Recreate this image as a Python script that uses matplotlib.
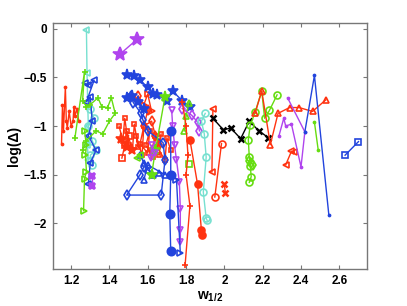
import matplotlib
matplotlib.use('Agg')
import matplotlib.pyplot as plt

plt.rcParams['font.family'] = ['Liberation Sans', 'DejaVu Sans']
plt.rcParams['mathtext.fontset'] = 'custom'
plt.rcParams['mathtext.bf'] = 'Liberation Sans:bold'
plt.rcParams['mathtext.rm'] = 'Liberation Sans'

red = '#ff3311'
blue = '#2244dd'
green = '#66dd11'
cyan = '#77e0d0'
purple = '#b044ee'
black = '#000000'

# each series: (colour, marker, filled, xs, ys)
s_red_thin_x = [1.15, 1.155, 1.16, 1.17, 1.175, 1.18, 1.19, 1.20, 1.21, 1.215, 1.22, 1.23, 1.24]
s_red_thin_y = [-1.18, -0.78, -1.05, -0.6, -0.95, -1.02, -0.85, -1.0, -0.95, -0.8, -0.9, -0.82, -0.95]

s_cyan_tl_x = [1.28, 1.283, 1.287, 1.29, 1.285, 1.29]
s_cyan_tl_y = [-0.01, -0.45, -0.8, -1.0, -1.2, -1.35]

s_blue_tl_x = [1.27, 1.29, 1.32, 1.28, 1.30, 1.31, 1.29, 1.33, 1.30, 1.29]
s_blue_tl_y = [-0.56, -0.58, -0.53, -0.75, -0.7, -0.95, -1.1, -1.25, -1.38, -1.6]

s_green_plus_x = [1.22, 1.27, 1.26, 1.28, 1.30, 1.34, 1.36, 1.39, 1.41, 1.43, 1.40, 1.365, 1.33, 1.28, 1.26]
s_green_plus_y = [-1.12, -0.44, -0.74, -0.8, -0.78, -0.71, -0.8, -0.81, -0.71, -0.87, -0.95, -1.08, -1.05, -1.15, -1.25]

s_green_tr_x = [1.27, 1.28, 1.275, 1.28, 1.27, 1.265]
s_green_tr_y = [-1.05, -1.2, -1.3, -1.47, -1.54, -1.87]

s_cyan_o_x = [1.30, 1.32, 1.29, 1.31, 1.33, 1.30, 1.31]
s_cyan_o_y = [-0.83, -0.92, -1.0, -1.15, -1.25, -1.3, -1.4]

s_purple_star_x = [1.31, 1.31]
s_purple_star_y = [-1.51, -1.62]

s_purple_pent_x = [1.456, 1.543]
s_purple_pent_y = [-0.26, -0.11]

s_blue_pent_x = [1.49, 1.53, 1.56, 1.60, 1.63, 1.65, 1.70, 1.73, 1.78, 1.82]
s_blue_pent_y = [-0.48, -0.49, -0.53, -0.6, -0.67, -0.68, -0.74, -0.64, -0.74, -0.8]

s_blue_pent2_x = [1.49, 1.52, 1.55, 1.58]
s_blue_pent2_y = [-0.71, -0.69, -0.75, -0.82]

s_blue_d_x = [1.51, 1.525, 1.565, 1.575, 1.60, 1.68, 1.69, 1.67, 1.49, 1.56, 1.58]
s_blue_d_y = [-0.69, -0.76, -0.87, -0.94, -1.05, -1.17, -1.35, -1.71, -1.71, -1.5, -1.42]

s_red_d_x = [1.55, 1.60, 1.58, 1.62, 1.64, 1.66]
s_red_d_y = [-0.69, -0.84, -1.0, -0.95, -1.1, -1.2]

s_red_zig_x = [1.45, 1.47, 1.48, 1.50, 1.49, 1.52, 1.53, 1.55, 1.54, 1.57, 1.58, 1.56,
               1.60, 1.61, 1.59, 1.63, 1.64, 1.62, 1.66, 1.67, 1.65, 1.69, 1.70, 1.72]
s_red_zig_y = [-1.0, -1.15, -0.92, -1.2, -1.05, -1.25, -0.98, -1.22, -1.1, -1.3, -1.0, -1.18,
               -1.28, -1.05, -1.2, -1.32, -1.1, -1.25, -1.3, -1.08, -1.22, -1.35, -1.12, -1.25]

s_red_sq_x = [1.465, 1.48, 1.50]
s_red_sq_y = [-1.33, -1.2, -1.1]

s_red_star_x = [1.46, 1.49, 1.52]
s_red_star_y = [-1.13, -1.22, -1.25]

s_red_tr_x = [1.58, 1.60, 1.62]
s_red_tr_y = [-0.78, -0.67, -0.85]

s_green_pent_x = [1.69, 1.64, 1.62]
s_green_pent_y = [-0.7, -1.25, -1.5]

s_green_tu_x = [1.815, 1.80, 1.79]
s_green_tu_y = [-0.76, -0.9, -1.05]

s_green_tl_x = [1.545, 1.56]
s_green_tl_y = [-1.33, -1.3]

s_green_sq_x = [1.815]
s_green_sq_y = [-1.39]

s_purple_d_x = [1.78, 1.83, 1.86, 1.87]
s_purple_d_y = [-0.82, -0.89, -0.96, -1.05]

s_purple_v_x = [1.725, 1.73, 1.74, 1.75, 1.765, 1.77, 1.77, 1.77]
s_purple_v_y = [-0.84, -1.0, -1.2, -1.35, -1.58, -1.85, -2.07, -2.19]

s_purple_v2_x = [1.615, 1.62, 1.64]
s_purple_v2_y = [-1.33, -1.2, -1.28]

s_blue_o_x = [1.72, 1.72, 1.715, 1.72]
s_blue_o_y = [-1.05, -1.5, -1.9, -2.29]

s_blue_tr_x = [1.75, 1.77]
s_blue_tr_y = [-1.55, -2.31]

s_blue_tu_x = [1.56, 1.58, 1.60, 1.63, 1.66, 1.69, 1.60, 1.58]
s_blue_tu_y = [-1.3, -1.38, -1.45, -1.5, -1.48, -1.5, -1.4, -1.55]

s_red_plus_x = [1.78, 1.80, 1.81, 1.80, 1.82, 1.795]
s_red_plus_y = [-0.75, -1.0, -1.3, -1.5, -1.82, -2.43]

s_red_dot_x = [1.82, 1.86, 1.88, 1.885]
s_red_dot_y = [-1.14, -1.6, -2.07, -2.12]

s_cyan_o2_x = [1.90, 1.88, 1.895, 1.905, 1.89, 1.905, 1.91]
s_cyan_o2_y = [-0.87, -0.95, -1.08, -1.32, -1.68, -1.95, -1.97]

s_black_x = [1.94, 1.995, 2.033, 2.085, 2.13, 2.18, 2.23]
s_black_y = [-0.92, -1.04, -1.02, -1.13, -0.95, -1.05, -1.12]

s_red_tu_x = [2.16, 2.195, 2.24, 2.28, 2.34, 2.39, 2.46, 2.53]
s_red_tu_y = [-0.87, -0.64, -1.19, -0.87, -0.81, -0.81, -0.85, -0.73]

s_red_tl_x = [2.32, 2.35, 2.365]
s_red_tl_y = [-1.4, -1.26, -1.27]

s_red_tl2_x = [1.94, 1.935]
s_red_tl2_y = [-0.83, -1.47]

s_purple_thin_x = [2.285, 2.31, 2.32, 2.35, 2.40, 2.42, 2.33]
s_purple_thin_y = [-1.1, -0.92, -1.0, -0.98, -1.42, -1.06, -0.71]

s_blue_thin_x = [2.42, 2.47, 2.545]
s_blue_thin_y = [-1.06, -0.48, -1.91]

s_green_thin_x = [2.47, 2.49]
s_green_thin_y = [-0.96, -1.25]

s_blue_sq_x = [2.63, 2.70]
s_blue_sq_y = [-1.3, -1.16]

s_green_o_x = [2.13, 2.14, 2.135, 2.13, 2.125, 2.135, 2.16, 2.195, 2.21, 2.235, 2.275]
s_green_o_y = [-1.58, -1.52, -1.41, -1.32, -1.14, -0.99, -0.86, -0.64, -0.92, -0.84, -0.68]

s_green_d_x = [2.13, 2.14, 2.15]
s_green_d_y = [-1.36, -1.38, -1.4]

s_red_o_x = [1.985, 1.95]
s_red_o_y = [-1.18, -1.73]

s_red_xx_x = [2.0, 2.005]
s_red_xx_y = [-1.6, -1.69]

series = [
    (red, '.', True, s_red_thin_x, s_red_thin_y),
    (cyan, '<', False, s_cyan_tl_x, s_cyan_tl_y),
    (cyan, 'o', False, s_cyan_o_x, s_cyan_o_y),
    (blue, '<', False, s_blue_tl_x, s_blue_tl_y),
    (green, '+', False, s_green_plus_x, s_green_plus_y),
    (green, '>', False, s_green_tr_x, s_green_tr_y),
    (purple, 'X', True, s_purple_star_x, s_purple_star_y),
    (purple, '*', True, s_purple_pent_x, s_purple_pent_y),
    (red, 's', False, s_red_zig_x, s_red_zig_y),
    (red, 's', False, s_red_sq_x, s_red_sq_y),
    (red, '*', True, s_red_star_x, s_red_star_y),
    (red, 'd', False, s_red_d_x, s_red_d_y),
    (red, '>', False, s_red_tr_x, s_red_tr_y),
    (blue, '*', True, s_blue_pent_x, s_blue_pent_y),
    (blue, '*', True, s_blue_pent2_x, s_blue_pent2_y),
    (blue, 'd', False, s_blue_d_x, s_blue_d_y),
    (blue, '^', False, s_blue_tu_x, s_blue_tu_y),
    (green, '*', True, s_green_pent_x, s_green_pent_y),
    (green, '^', False, s_green_tu_x, s_green_tu_y),
    (green, '<', False, s_green_tl_x, s_green_tl_y),
    (green, 's', False, s_green_sq_x, s_green_sq_y),
    (purple, 'd', False, s_purple_d_x, s_purple_d_y),
    (purple, 'v', False, s_purple_v_x, s_purple_v_y),
    (purple, 'v', False, s_purple_v2_x, s_purple_v2_y),
    (blue, 'o', True, s_blue_o_x, s_blue_o_y),
    (blue, '>', False, s_blue_tr_x, s_blue_tr_y),
    (red, '+', False, s_red_plus_x, s_red_plus_y),
    (red, 'o', True, s_red_dot_x, s_red_dot_y),
    (cyan, 'o', False, s_cyan_o2_x, s_cyan_o2_y),
    (red, '<', False, s_red_tl2_x, s_red_tl2_y),
    (red, 'o', False, s_red_o_x, s_red_o_y),
    (red, 'x', False, s_red_xx_x, s_red_xx_y),
    (black, 'x', False, s_black_x, s_black_y),
    (green, 'o', False, s_green_o_x, s_green_o_y),
    (green, 'd', False, s_green_d_x, s_green_d_y),
    (red, '^', False, s_red_tu_x, s_red_tu_y),
    (red, '<', False, s_red_tl_x, s_red_tl_y),
    (purple, '.', True, s_purple_thin_x, s_purple_thin_y),
    (blue, '.', True, s_blue_thin_x, s_blue_thin_y),
    (green, '.', True, s_green_thin_x, s_green_thin_y),
    (blue, 's', False, s_blue_sq_x, s_blue_sq_y),
]

fig = plt.figure(figsize=(4.07, 3.06), dpi=100)
ax = fig.add_axes([0.130, 0.121, 0.772, 0.804])

for col, mk, filled, xs, ys in series:
    ms = 5
    mew = 1.2
    if mk == '.':
        ms = 3
    elif mk == '*':
        ms = 8
    elif mk == 'x':
        ms = 4
        mew = 1.8
    elif mk == 'o' and filled:
        ms = 6 if col == blue else 5
    if xs is s_red_zig_x:
        ms = 3.5
    if xs is s_purple_pent_x:
        ms = 10
    ax.plot(xs, ys, color=col, marker=mk, ms=ms, lw=1.0, mew=mew,
            mfc=col if filled else 'none', mec=col)

ax.set_xlim(1.105, 2.745)
ax.set_ylim(-2.47, 0.06)
ax.set_xticks([1.2, 1.4, 1.6, 1.8, 2.0, 2.2, 2.4, 2.6])
ax.set_xticklabels(['1.2', '1.4', '1.6', '1.8', '2', '2.2', '2.4', '2.6'])
ax.set_yticks([0, -0.5, -1, -1.5, -2])
ax.set_yticklabels(['0', '\u22120.5', '\u22121', '\u22121.5', '\u22122'])
ax.tick_params(direction='in', length=3, width=0.8, color='#777777',
               top=True, right=True, labelsize=8.5, pad=4)
for lab in ax.get_xticklabels() + ax.get_yticklabels():
    lab.set_fontweight('bold')
for sp in ax.spines.values():
    sp.set_color('#777777')
    sp.set_linewidth(1.0)

ax.set_xlabel(r'$\mathbf{w}_{\mathbf{1/2}}$', fontsize=10, labelpad=2)
ax.set_ylabel('log(\u0394)', fontsize=10, fontweight='bold', labelpad=2)

fig.savefig('out.png', dpi=100)
